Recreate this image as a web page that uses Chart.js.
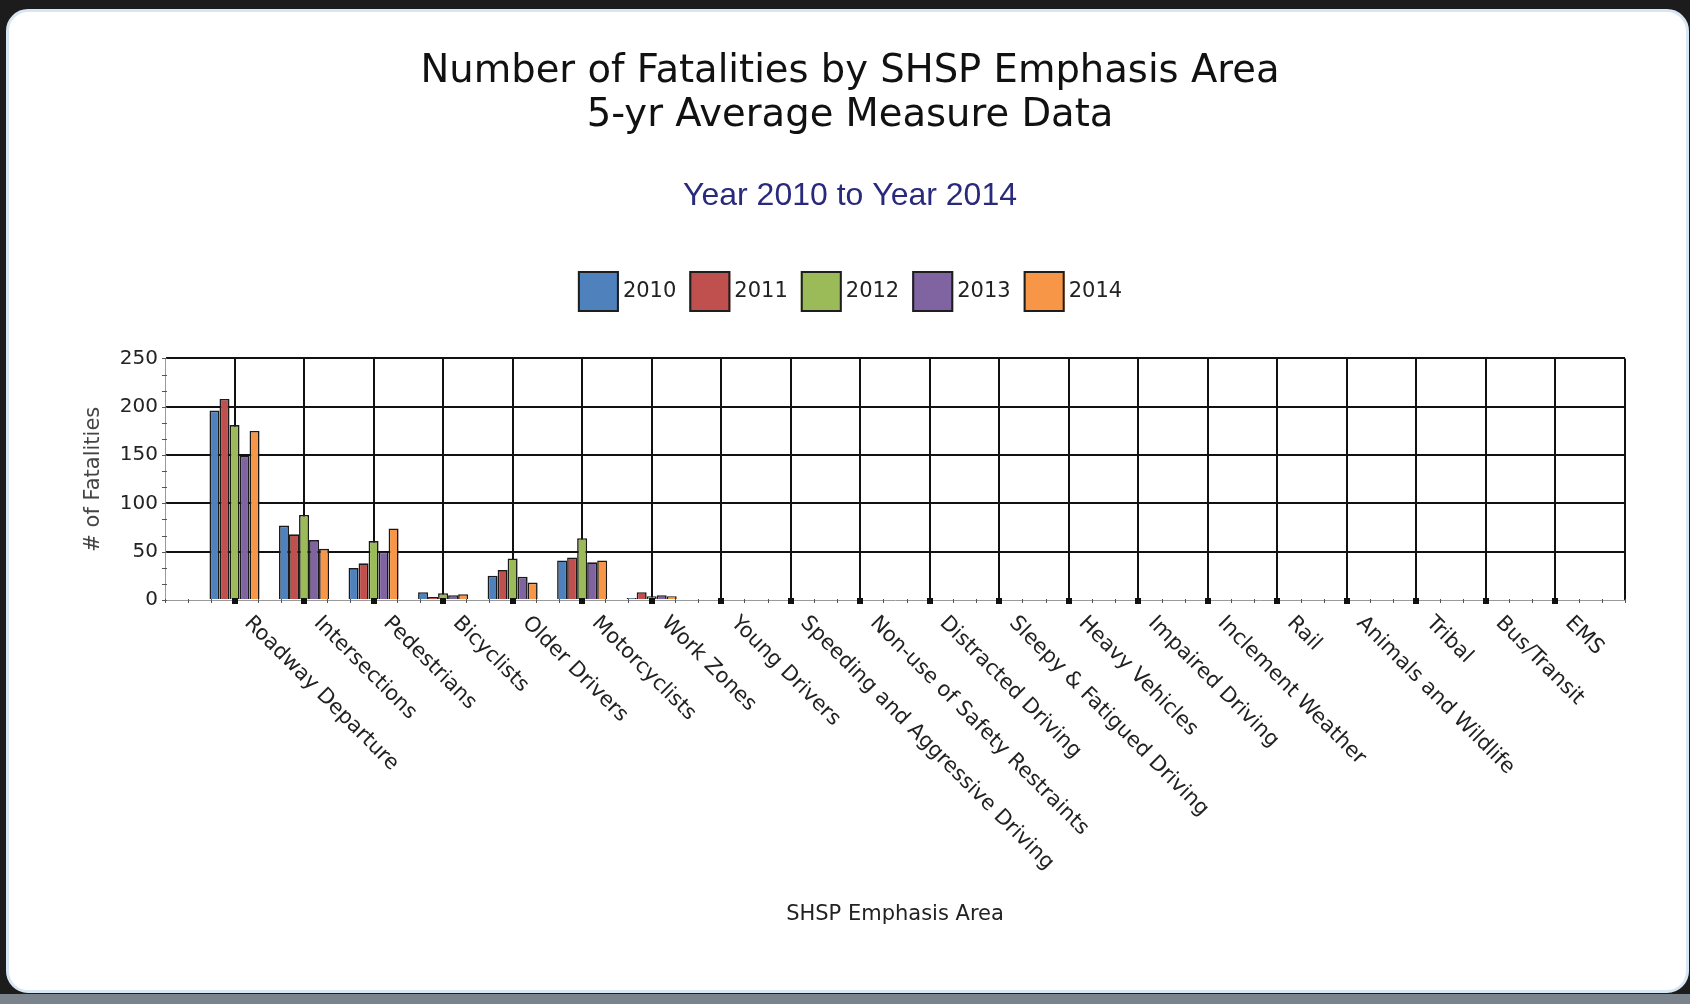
<!DOCTYPE html>
<html>
<head>
<meta charset="utf-8">
<title>Number of Fatalities by SHSP Emphasis Area</title>
<script src="https://cdn.jsdelivr.net/npm/chart.js@4.4.0/dist/chart.umd.min.js"></script>
<style>
    html, body { margin: 0; padding: 0; width: 1690px; height: 1004px; overflow: hidden; background: #1c1c1c; }
    .card { position: absolute; left: 6px; top: 9px; width: 1677px; height: 978px; background: #fff; border: 3px solid #d8e5f3; border-radius: 22px; }
    .shade { position: absolute; left: 0; top: 994px; width: 1690px; height: 10px; background: #7b838d; }
    #chart { position: absolute; left: 0; top: 0; }
</style>
</head>
<body>
<div class="card"></div>
<div class="shade"></div>
<canvas id="chart" width="1690" height="1004"></canvas>
<script>
// ============================================================================
// Data
// ============================================================================

const categories = [
    'Roadway Departure', 'Intersections', 'Pedestrians', 'Bicyclists', 'Older Drivers',
    'Motorcyclists', 'Work Zones', 'Young Drivers', 'Speeding and Aggressive Driving',
    'Non-use of Safety Restraints', 'Distracted Driving', 'Sleepy & Fatigued Driving',
    'Heavy Vehicles', 'Impaired Driving', 'Inclement Weather', 'Rail', 'Animals and Wildlife',
    'Tribal', 'Bus/Transit', 'EMS'
];

const years = ['2010', '2011', '2012', '2013', '2014'];

const fatal2010 = [196, 77, 33, 8, 25, 41, 2, 0, 0, 0, 0, 0, 0, 0, 0, 0, 0, 0, 0, 0];
const fatal2011 = [208, 68, 38, 3, 31, 44, 8, 0, 0, 0, 0, 0, 0, 0, 0, 0, 0, 0, 0, 0];
const fatal2012 = [181, 88, 61, 7, 43, 64, 4, 0, 0, 0, 0, 0, 0, 0, 0, 0, 0, 0, 0, 0];
const fatal2013 = [149, 62, 50, 5, 24, 39, 5, 0, 0, 0, 0, 0, 0, 0, 0, 0, 0, 0, 0, 0];
const fatal2014 = [175, 53, 74, 6, 18, 41, 4, 0, 0, 0, 0, 0, 0, 0, 0, 0, 0, 0, 0, 0];

const yTicks = [0, 50, 100, 150, 200, 250];

const palette = ['#4f81bd', '#c0504d', '#9bbb59', '#8064a2', '#f79646'];

// ============================================================================
// Helpers
// ============================================================================

// one empty slot each side so the first/last category sit a full step from the frame
const paddedLabels = [''].concat(categories, ['']);
const pad = arr => [null].concat(arr, [null]);
const series = [fatal2010, fatal2011, fatal2012, fatal2013, fatal2014];

const FONT = "'DejaVu Sans', Verdana, sans-serif";

// Minor ticks, category markers, rotated labels and legend
const decorPlugin = {
    id: 'decor',
    afterDraw(chart) {
        const ctx = chart.ctx;
        const x = chart.scales.x;
        const y = chart.scales.y;
        const area = chart.chartArea;
        ctx.save();

        // x minor ticks (thirds)
        ctx.strokeStyle = '#555';
        ctx.lineWidth = 1;
        for (let v = 0; v <= paddedLabels.length - 1; v += 1 / 3) {
            const px = Math.round(x.getPixelForValue(v)) + 0.5;
            ctx.beginPath();
            ctx.moveTo(px, area.bottom - 1);
            ctx.lineTo(px, area.bottom + 3);
            ctx.stroke();
        }
        // y minor ticks (thirds)
        const step = yTicks[1] - yTicks[0];
        for (let v = 0; v <= yTicks[yTicks.length - 1] + 0.01; v += step / 3) {
            const py = Math.round(y.getPixelForValue(v)) + 0.5;
            ctx.beginPath();
            ctx.moveTo(area.left - 3, py);
            ctx.lineTo(area.left + 2, py);
            ctx.stroke();
        }

        // category markers + labels
        ctx.fillStyle = '#111';
        categories.forEach((name, i) => {
            const px = x.getPixelForValue(i + 1);
            ctx.fillRect(Math.round(px) - 3, area.bottom - 2, 6, 6);
        });
        ctx.font = '21px ' + FONT;
        ctx.fillStyle = '#222';
        ctx.textAlign = 'left';
        ctx.textBaseline = 'middle';
        categories.forEach((name, i) => {
            const px = x.getPixelForValue(i + 1);
            ctx.save();
            ctx.translate(px + 13, area.bottom + 20);
            ctx.rotate(Math.PI / 4);
            ctx.fillText(name, 0, 0);
            ctx.restore();
        });

        // legend
        const boxSize = 41, gapText = 4, gapItem = 13, legendY = 271;
        ctx.font = '21px ' + FONT;
        const items = chart.data.datasets.map(ds => ({
            label: ds.label, color: ds.backgroundColor, w: boxSize + gapText + ctx.measureText(ds.label).width
        }));
        const total = items.reduce((s, it) => s + it.w, 0) + gapItem * (items.length - 1);
        let lx = chart.width / 2 + 5 - total / 2;
        items.forEach(it => {
            ctx.fillStyle = it.color;
            ctx.fillRect(lx, legendY, boxSize, boxSize);
            ctx.strokeStyle = '#1e1e1e';
            ctx.lineWidth = 2;
            ctx.strokeRect(lx + 1, legendY + 1, boxSize - 2, boxSize - 2);
            ctx.fillStyle = '#222';
            ctx.fillText(it.label, lx + boxSize + gapText, legendY + boxSize / 2);
            lx += it.w + gapItem;
        });

        ctx.restore();
    }
};

// ============================================================================
// Chart
// ============================================================================

new Chart(document.getElementById('chart'), {
    type: 'bar',
    data: {
        labels: paddedLabels,
        datasets: years.map((yr, i) => ({
            label: yr,
            data: pad(series[i]),
            backgroundColor: palette[i],
            borderColor: '#1a1a1a',
            borderWidth: 1.6,
            categoryPercentage: 0.72,
            barPercentage: 1
        }))
    },
    options: {
        responsive: false,
        animation: false,
        devicePixelRatio: 1,
        layout: { padding: { left: 75, right: 65, top: 23, bottom: 64 } },
        plugins: {
            legend: { display: false },
            tooltip: { enabled: false },
            title: {
                display: true,
                text: ['Number of Fatalities by SHSP Emphasis Area', '5-yr Average Measure Data'],
                color: '#111',
                font: { family: FONT, size: 38.5, weight: 'normal', lineHeight: 44 / 38.5 },
                padding: { top: 27, bottom: 0 }
            },
            subtitle: {
                display: true,
                text: 'Year 2010 to Year 2014',
                color: '#2a2a7c',
                font: { family: "'Liberation Sans', Arial, sans-serif", size: 32, lineHeight: 1.2 },
                padding: { top: 39, bottom: 143 }
            }
        },
        scales: {
            x: {
                type: 'category',
                offset: false,
                grid: {
                    offset: false,
                    drawTicks: false,
                    lineWidth: 2,
                    color: c => c.index === 0 ? 'rgba(0,0,0,0)' : '#111'
                },
                border: { color: '#9a9a9a', width: 1 },
                ticks: { display: false, autoSkip: false },
                title: {
                    display: true,
                    text: 'SHSP Emphasis Area',
                    color: '#222',
                    font: { family: FONT, size: 21 },
                    padding: { top: 0, bottom: 13 }
                },
                afterFit: s => { s.height = 340; }
            },
            y: {
                min: yTicks[0],
                max: yTicks[yTicks.length - 1],
                afterBuildTicks: s => { s.ticks = yTicks.map(v => ({ value: v })); },
                ticks: { color: '#222', font: { family: FONT, size: 20 }, padding: 7 },
                grid: {
                    drawTicks: false,
                    lineWidth: 2,
                    color: c => (c.tick && c.tick.value === 0) ? 'rgba(0,0,0,0)' : '#111'
                },
                border: { color: '#9a9a9a', width: 1 },
                title: {
                    display: true,
                    text: '# of Fatalities',
                    color: '#444',
                    font: { family: FONT, size: 21 },
                    padding: { top: 6, bottom: 0 }
                },
                afterFit: s => { s.width = 90; }
            }
        }
    },
    plugins: [decorPlugin]
});
</script>
</body>
</html>
